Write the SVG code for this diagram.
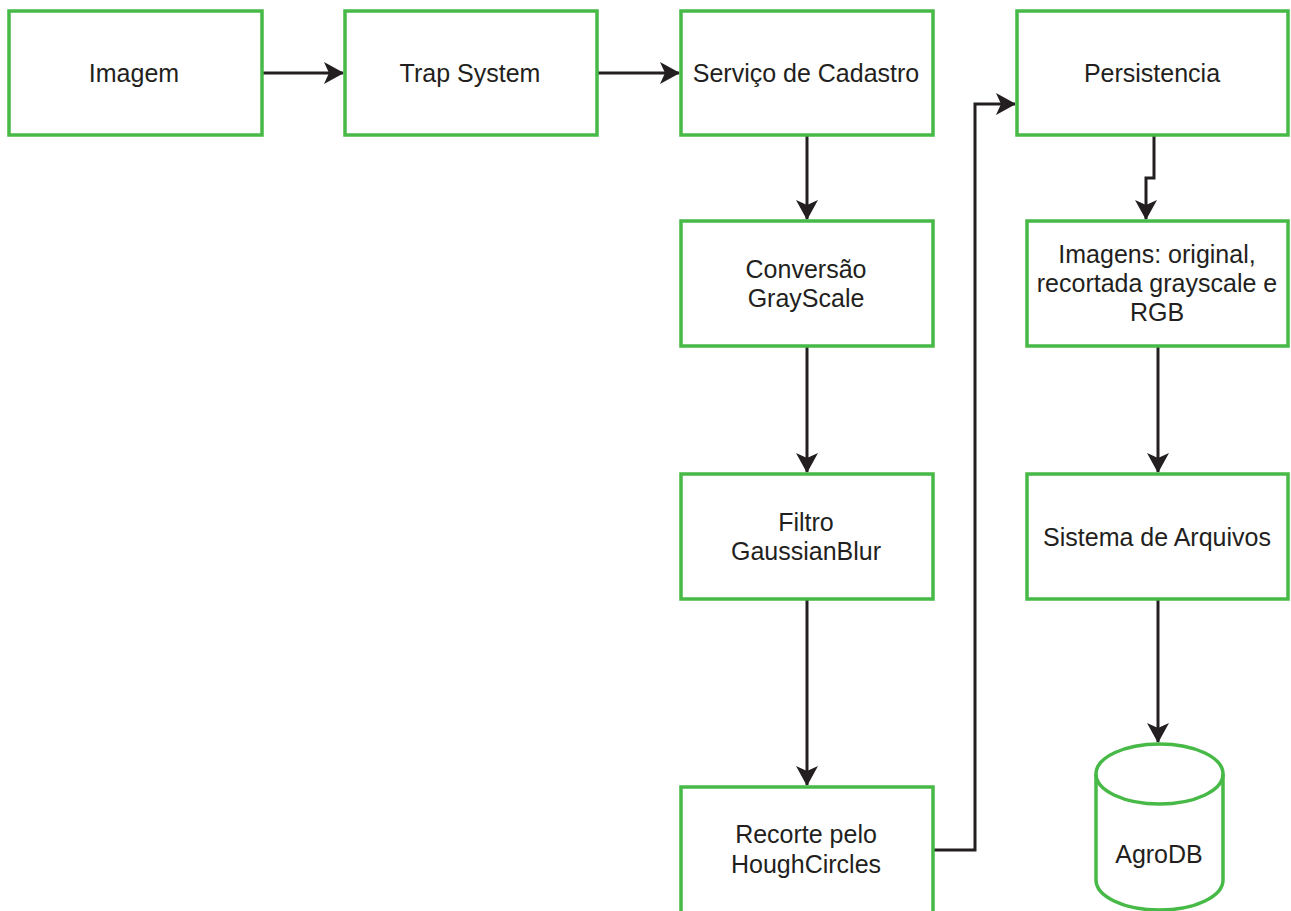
<svg xmlns="http://www.w3.org/2000/svg" width="1291" height="911" viewBox="0 0 1291 911">
  <style>
    .box { fill: #ffffff; stroke: #46b946; stroke-width: 3.5; }
    .lbl { font-family: "Liberation Sans", Arial, Helvetica, sans-serif; font-size: 25px; fill: #231f20; text-anchor: middle; }
    .edge { fill: none; stroke: #231f20; stroke-width: 3; }
  </style>
  <defs>
    <marker id="arrow" viewBox="0 0 20 22" refX="19" refY="11" markerWidth="20" markerHeight="22" markerUnits="userSpaceOnUse" orient="auto">
      <path d="M0,0 L20,11 L0,22 L5,11 Z" fill="#231f20"/>
    </marker>
  </defs>
  <rect width="1291" height="911" fill="#ffffff"/>

  <g id="connectors">
    <path class="edge" d="M262,73 L343,73" marker-end="url(#arrow)"/>
    <path class="edge" d="M598,73 L679,73" marker-end="url(#arrow)"/>
    <path class="edge" d="M807,136 L807,219" marker-end="url(#arrow)"/>
    <path class="edge" d="M807,346 L807,472" marker-end="url(#arrow)"/>
    <path class="edge" d="M807,600 L807,785" marker-end="url(#arrow)"/>
    <path class="edge" d="M934,850 L975,850 L975,104 L1015,104" marker-end="url(#arrow)"/>
    <path class="edge" d="M1154,136 L1154,178 L1146,178 L1146,219" marker-end="url(#arrow)"/>
    <path class="edge" d="M1158,347 L1158,472" marker-end="url(#arrow)"/>
    <path class="edge" d="M1158,600 L1158,742" marker-end="url(#arrow)"/>
  </g>

  <g id="imagem">
    <rect class="box" x="9" y="11" width="253" height="124"/>
    <text class="lbl" x="134" y="82">Imagem</text>
  </g>
  <g id="trap-system">
    <rect class="box" x="345" y="11" width="252" height="124"/>
    <text class="lbl" x="470" y="82">Trap System</text>
  </g>
  <g id="servico-cadastro">
    <rect class="box" x="681" y="11" width="252" height="124"/>
    <text class="lbl" x="806" y="82">Serviço de Cadastro</text>
  </g>
  <g id="persistencia">
    <rect class="box" x="1017" y="11" width="271" height="124"/>
    <text class="lbl" x="1152" y="82">Persistencia</text>
  </g>
  <g id="conversao-grayscale">
    <rect class="box" x="681" y="221" width="252" height="125"/>
    <text class="lbl" x="806" y="278">Conversão</text>
    <text class="lbl" x="806" y="307">GrayScale</text>
  </g>
  <g id="filtro-gaussianblur">
    <rect class="box" x="681" y="474" width="252" height="125"/>
    <text class="lbl" x="806" y="531">Filtro</text>
    <text class="lbl" x="806" y="560">GaussianBlur</text>
  </g>
  <g id="recorte-houghcircles">
    <rect class="box" x="681" y="787" width="252" height="140"/>
    <text class="lbl" x="806" y="843">Recorte pelo</text>
    <text class="lbl" x="806" y="873">HoughCircles</text>
  </g>
  <g id="imagens">
    <rect class="box" x="1027" y="221" width="261" height="125"/>
    <text class="lbl" x="1157" y="263">Imagens: original,</text>
    <text class="lbl" x="1157" y="292">recortada grayscale e</text>
    <text class="lbl" x="1157" y="321">RGB</text>
  </g>
  <g id="sistema-arquivos">
    <rect class="box" x="1027" y="474" width="261" height="125"/>
    <text class="lbl" x="1157" y="546">Sistema de Arquivos</text>
  </g>
  <g id="agrodb">
    <path class="box" d="M1096,774 A63.5,30 0 0 1 1223,774 L1223,880 A63.5,30 0 0 1 1096,880 Z"/>
    <path class="box" style="fill:none" d="M1096,774 A63.5,30 0 0 0 1223,774"/>
    <text class="lbl" x="1159" y="863">AgroDB</text>
  </g>
</svg>
